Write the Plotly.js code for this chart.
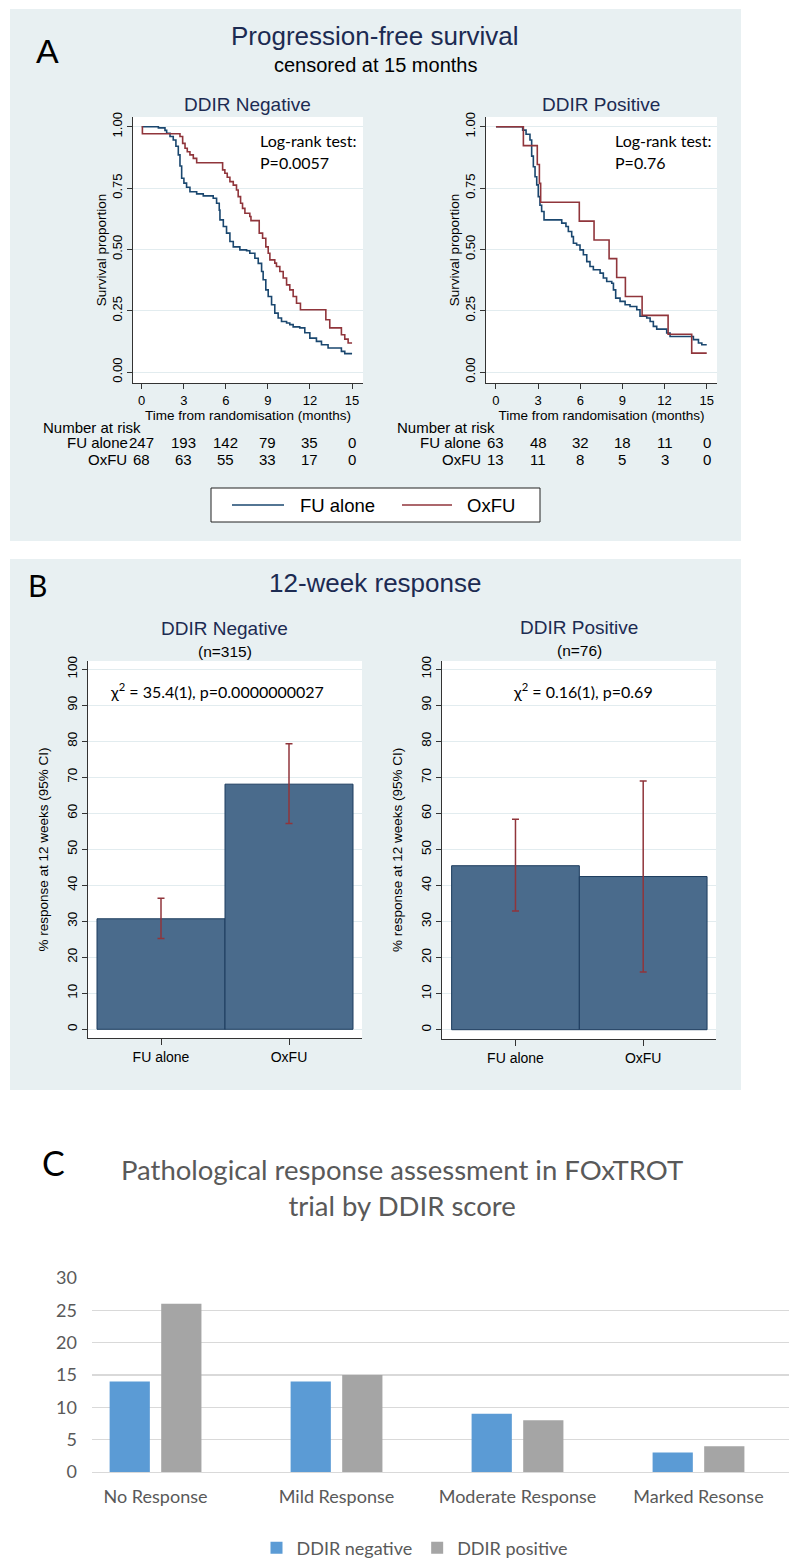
<!DOCTYPE html>
<html>
<head>
<meta charset="utf-8">
<script src="https://cdn.plot.ly/plotly-3.0.1.min.js"></script>
<style>html,body{margin:0;padding:0;background:#fff;}#chart{width:800px;height:1568px;}</style>
</head>
<body>
<div id="chart"></div>
<script>
// ---------- DATA ----------
// Panel A: Kaplan-Meier step curves (time in months, survival proportion)
const negFU_t = [0,1.19,1.66,1.78,2.02,2.25,2.44,2.61,2.73,2.85,3.01,3.20,3.44,3.92,4.39,5.10,5.34,5.53,5.58,5.82,6.05,6.29,6.53,7.00,7.48,7.71,8.07,8.31,8.55,8.66,8.85,9.02,9.26,9.49,9.73,9.97,10.33,10.56,10.80,11.27,11.63,11.99,12.46,12.82,13.29,14.24,14.48,15.0];
const negFU_s = [1.0,0.995,0.985,0.973,0.96,0.946,0.92,0.885,0.84,0.79,0.77,0.753,0.735,0.726,0.718,0.708,0.688,0.66,0.62,0.593,0.566,0.532,0.51,0.498,0.494,0.484,0.464,0.443,0.41,0.376,0.335,0.308,0.274,0.24,0.22,0.206,0.2,0.193,0.184,0.18,0.16,0.138,0.125,0.111,0.098,0.084,0.075,0.075];
const negOx_t = [0,0.05,2.73,2.92,3.09,3.25,3.44,3.68,3.92,5.77,5.93,6.10,6.29,6.53,6.76,6.88,7.05,7.19,7.36,7.71,7.79,8.38,8.62,8.85,9.02,9.14,9.49,9.61,9.85,10.09,10.33,10.56,10.80,11.04,11.32,13.13,13.41,14.24,14.48,14.72,15.0];
const negOx_s = [1.0,0.971,0.96,0.932,0.912,0.898,0.885,0.871,0.853,0.824,0.81,0.794,0.776,0.762,0.742,0.715,0.688,0.667,0.647,0.634,0.617,0.566,0.545,0.51,0.484,0.457,0.444,0.43,0.41,0.383,0.355,0.335,0.308,0.28,0.254,0.213,0.18,0.152,0.134,0.118,0.118];
const posFU_t = [0,1.90,2.14,2.42,2.54,2.66,2.78,2.90,3.01,3.13,3.25,3.42,4.68,4.98,5.15,5.39,5.51,5.74,5.98,6.22,6.46,6.69,6.93,7.41,7.64,7.88,8.24,8.36,8.52,8.83,9.19,9.54,10.02,10.25,10.73,10.97,11.20,11.44,12.15,12.39,14.05,14.41,14.65,15.0];
const posFU_s = [1.0,0.986,0.969,0.946,0.88,0.837,0.796,0.763,0.715,0.68,0.654,0.62,0.607,0.593,0.573,0.552,0.525,0.518,0.498,0.478,0.45,0.43,0.417,0.403,0.383,0.369,0.362,0.335,0.301,0.288,0.274,0.267,0.254,0.227,0.22,0.206,0.186,0.175,0.159,0.145,0.132,0.118,0.111,0.111];
const posOx_t = [0,1.95,2.94,3.09,3.18,5.93,6.98,8.05,8.59,9.21,10.4,12.25,13.93,15.0];
const posOx_s = [1.0,0.923,0.846,0.769,0.692,0.615,0.538,0.462,0.385,0.308,0.231,0.154,0.077,0.077];

// Number at risk
const riskTimes = [0,3,6,9,12,15];
const riskNegFU = [247,193,142,79,35,0];
const riskNegOx = [68,63,55,33,17,0];
const riskPosFU = [63,48,32,18,11,0];
const riskPosOx = [13,11,8,5,3,0];
const kmTicks = [0,0.25,0.5,0.75,1];
const kmTickText = ['0.00','0.25','0.50','0.75','1.00'];

// Panel B: 12-week response (%), with 95% CI
const armCats = ['FU alone','OxFU'];
const respNeg = [30.7,68.1];
const respNegLo = [25.2,57.2];
const respNegHi = [36.4,79.3];
const respPos = [45.5,42.5];
const respPosLo = [32.9,16.0];
const respPosHi = [58.4,69.0];

// Panel C: pathological response counts
const pathCats = ['No Response','Mild Response','Moderate Response','Marked Resonse'];
const pathNeg = [14,14,9,3];
const pathPos = [26,15,8,4];

// ---------- HELPERS ----------
const W = 800, H = 1568;
const px = v => v / W;
const py = v => 1 - v / H;

const NAVY = '#1a476f', MAROON = '#90353b';
const TITLE = '#1c2b52';
const PANEL = '#e8f0f2';
const GRID = '#e2ecef';
const SANS = 'Liberation Sans, Arial, sans-serif';
const CAL = 'Lato, Open Sans, sans-serif';

function km(x, y, xa, ya, color, name) {
  return {type:'scatter', mode:'lines', x:x, y:y, xaxis:xa, yaxis:ya,
    line:{color:color, width:1.6, shape:'hv'}, name:name, showlegend:false, hoverinfo:'skip'};
}

const traces = [
  km(negFU_t, negFU_s, 'x', 'y', NAVY, 'FU alone'),
  km(negOx_t, negOx_s, 'x', 'y', MAROON, 'OxFU'),
  km(posFU_t, posFU_s, 'x2', 'y2', NAVY, 'FU alone'),
  km(posOx_t, posOx_s, 'x2', 'y2', MAROON, 'OxFU'),
];

function respBar(vals, lo, hi, xa, ya) {
  return {type:'bar', x:[0,1], y:vals, width:[1,1], xaxis:xa, yaxis:ya, showlegend:false,
    marker:{color:'#4a6b8c', line:{color:'#1d3c5e', width:1}},
    error_y:{type:'data', symmetric:false,
      array: hi.map((h,i)=>h-vals[i]), arrayminus: vals.map((v,i)=>v-lo[i]),
      color:MAROON, thickness:1.5, width:3.5},
    hoverinfo:'skip'};
}
traces.push(respBar(respNeg, respNegLo, respNegHi, 'x3', 'y3'));
traces.push(respBar(respPos, respPosLo, respPosHi, 'x4', 'y4'));

traces.push({type:'bar', x:pathCats, y:pathNeg, xaxis:'x5', yaxis:'y5', name:'DDIR negative',
  marker:{color:'#5b9bd5'}, legend:'legend', hoverinfo:'skip'});
traces.push({type:'bar', x:pathCats, y:pathPos, xaxis:'x5', yaxis:'y5', name:'DDIR positive',
  marker:{color:'#a5a5a5'}, legend:'legend', hoverinfo:'skip'});

// ---------- AXES ----------
function kmX(d0, d1, r0, r1, anchor) {
  return {domain:[px(d0), px(d1)], anchor:anchor, range:[r0, r1], tickvals:riskTimes,
    ticks:'outside', ticklen:5, tickcolor:'#333', showline:true, linecolor:'#333', linewidth:1,
    showgrid:false, zeroline:false, tickfont:{family:SANS, size:13, color:'#000'},
    title:{text:'Time from randomisation (months)', font:{family:SANS, size:13.5, color:'#000'}, standoff:1}};
}
function kmY(anchor) {
  return {domain:[py(383), py(117)], anchor:anchor, range:[-0.0448, 1.0395], tickvals:kmTicks, ticktext:kmTickText,
    tickangle:-90, ticks:'outside', ticklen:5, tickcolor:'#333', showline:true, linecolor:'#333', linewidth:1,
    showgrid:true, gridcolor:GRID, gridwidth:1, zeroline:false, tickfont:{family:SANS, size:13, color:'#000'},
    title:{text:'Survival proportion', font:{family:SANS, size:13.5, color:'#000'}, standoff:0}};
}
function bX(d0, d1, r0, r1, anchor) {
  return {domain:[px(d0), px(d1)], anchor:anchor, range:[r0, r1], tickvals:[0,1], ticktext:armCats,
    ticks:'outside', ticklen:6, tickcolor:'#333', showline:true, linecolor:'#333', linewidth:1,
    showgrid:false, zeroline:false, tickfont:{family:SANS, size:14, color:'#000'}};
}
function bY(b, t, r0, r1, anchor) {
  return {domain:[py(b), py(t)], anchor:anchor, range:[r0, r1], dtick:10, tick0:0,
    tickangle:-90, ticks:'outside', ticklen:5, tickcolor:'#333', showline:true, linecolor:'#333', linewidth:1,
    showgrid:true, gridcolor:GRID, gridwidth:1, zeroline:false, tickfont:{family:SANS, size:13.5, color:'#000'},
    title:{text:'% response at 12 weeks (95% CI)', font:{family:SANS, size:13.5, color:'#000'}, standoff:13}};
}

// ---------- ANNOTATIONS ----------
const ann = [];
function txt(text, x, y, size, color, family, xanchor, extra) {
  ann.push(Object.assign({text:text, x:px(x), y:py(y), xref:'paper', yref:'paper', showarrow:false,
    xanchor:xanchor||'center', yanchor:'middle', font:{size:size, color:color||'#000', family:family||SANS}}, extra||{}));
}
txt('A', 47, 51, 34, '#000');
txt('Progression-free survival', 375, 36, 26, TITLE);
txt('censored at 15 months', 375, 65, 20, '#000');
txt('DDIR Negative', 247, 105, 19, TITLE);
txt('DDIR Positive', 601, 105, 19, TITLE);
txt('Log-rank test:', 258, 140, 16, '#000', CAL, 'left');
txt('P=0.0057', 258, 162, 16, '#000', CAL, 'left');
txt('Log-rank test:', 613, 140, 16, '#000', CAL, 'left');
txt('P=0.76', 613, 162, 16, '#000', CAL, 'left');

// number at risk tables
txt('Number at risk', 41, 427, 15, '#000', SANS, 'left');
txt('Number at risk', 395, 427, 15, '#000', SANS, 'left');
txt('FU alone', 130, 443, 15, '#000', SANS, 'right');
txt('OxFU', 129, 459, 15, '#000', SANS, 'right');
txt('FU alone', 483, 443, 15, '#000', SANS, 'right');
txt('OxFU', 483, 459, 15, '#000', SANS, 'right');
function riskRow(vals, xref, y) {
  vals.forEach((v,i) => ann.push({text:String(v), x:riskTimes[i], xref:xref, y:py(y), yref:'paper',
    showarrow:false, xanchor:'center', yanchor:'middle', font:{size:15, color:'#000', family:SANS}}));
}
riskRow(riskNegFU, 'x', 443);
riskRow(riskNegOx, 'x', 459);
riskRow(riskPosFU, 'x2', 443);
riskRow(riskPosOx, 'x2', 459);

// Panel A legend (drawn box with line samples)
txt('FU alone', 298, 505, 18.5, '#000', SANS, 'left');
txt('OxFU', 465, 505, 18.5, '#000', SANS, 'left');

txt('B', 37, 585, 30, '#000', CAL);
txt('12-week response', 375, 583, 26, TITLE);
txt('DDIR Negative', 224.5, 628, 19, TITLE);
txt('(n=315)', 224.5, 651, 15.5, '#000');
txt('DDIR Positive', 579.3, 627.5, 19, TITLE);
txt('(n=76)', 579.3, 650, 15.5, '#000');
txt('χ<sup>2</sup> = 35.4(1), p=0.0000000027', 216.7, 691, 16, '#000', CAL);
txt('χ<sup>2</sup> = 0.16(1), p=0.69', 583.3, 691, 16, '#000', CAL);

txt('C', 53, 1162, 34, '#000', CAL);
txt('Pathological response assessment in FOxTROT<br>trial by DDIR score', 402, 1187, 27.5, '#595959', CAL);

// ---------- SHAPES ----------
function rect(x0, y0, x1, y1, fill, line, layer) {
  return {type:'rect', xref:'paper', yref:'paper', x0:px(x0), x1:px(x1), y0:py(y1), y1:py(y0),
    fillcolor:fill, line:line||{width:0}, layer:layer||'below'};
}
function hline(x0, x1, y, color) {
  return {type:'line', xref:'paper', yref:'paper', x0:px(x0), x1:px(x1), y0:py(y), y1:py(y),
    line:{color:color, width:1.6}, layer:'above'};
}
const shapes = [
  rect(10, 9, 741, 541, PANEL),
  rect(10, 559, 741, 1090, PANEL),
  rect(133, 117, 363, 383, '#fff'),
  rect(486, 117, 717, 383, '#fff'),
  rect(88, 661, 362, 1038, '#fff'),
  rect(442, 661, 716, 1039, '#fff'),
  rect(211, 488, 540, 522, '#fff', {color:'#222', width:1}, 'above'),
  hline(232, 284, 505, NAVY),
  hline(402, 452, 505, MAROON),
];

const layout = {
  width:W, height:H, margin:{l:0, r:0, t:0, b:0},
  paper_bgcolor:'#fff', plot_bgcolor:'rgba(0,0,0,0)',
  font:{family:SANS, color:'#000'},
  barmode:'group', bargap:0.43, bargroupgap:0.22,
  xaxis: kmX(133, 363, -0.62, 15.78, 'y'),
  yaxis: kmY('x'),
  xaxis2: kmX(486, 717, -0.71, 15.73, 'y2'),
  yaxis2: kmY('x2'),
  xaxis3: bX(88.3, 361.7, -0.568, 1.568, 'y3'),
  yaxis3: bY(1038.3, 660.7, -2.5, 102.4, 'x3'),
  xaxis4: bX(442.3, 716, -0.573, 1.57, 'y4'),
  yaxis4: bY(1038.7, 661, -2.5, 102.3, 'x4'),
  xaxis5: {domain:[px(92), px(789)], anchor:'y5', range:[-0.351, 3.5], showline:true, linecolor:'#d9d9d9', linewidth:1.3,
    ticks:'', showgrid:false, zeroline:false, ticklabelstandoff:8, tickfont:{family:CAL, size:18, color:'#595959'}},
  yaxis5: {domain:[py(1472), py(1278)], anchor:'x5', range:[0,30], dtick:5, showgrid:true, gridcolor:'#d9d9d9',
    gridwidth:1.3, zeroline:false, showline:false, ticks:'', ticklabelstandoff:14, tickfont:{family:CAL, size:18, color:'#595959'}},
  showlegend:true,
  legend:{orientation:'h', x:px(415), xanchor:'center', y:py(1548), yanchor:'middle',
    bgcolor:'rgba(0,0,0,0)', font:{family:CAL, size:18, color:'#595959'}, itemwidth:30, itemclick:false, itemdoubleclick:false},
  annotations: ann,
  shapes: shapes,
};

Plotly.newPlot('chart', traces, layout, {displayModeBar:false, staticPlot:true});
</script>
</body>
</html>
